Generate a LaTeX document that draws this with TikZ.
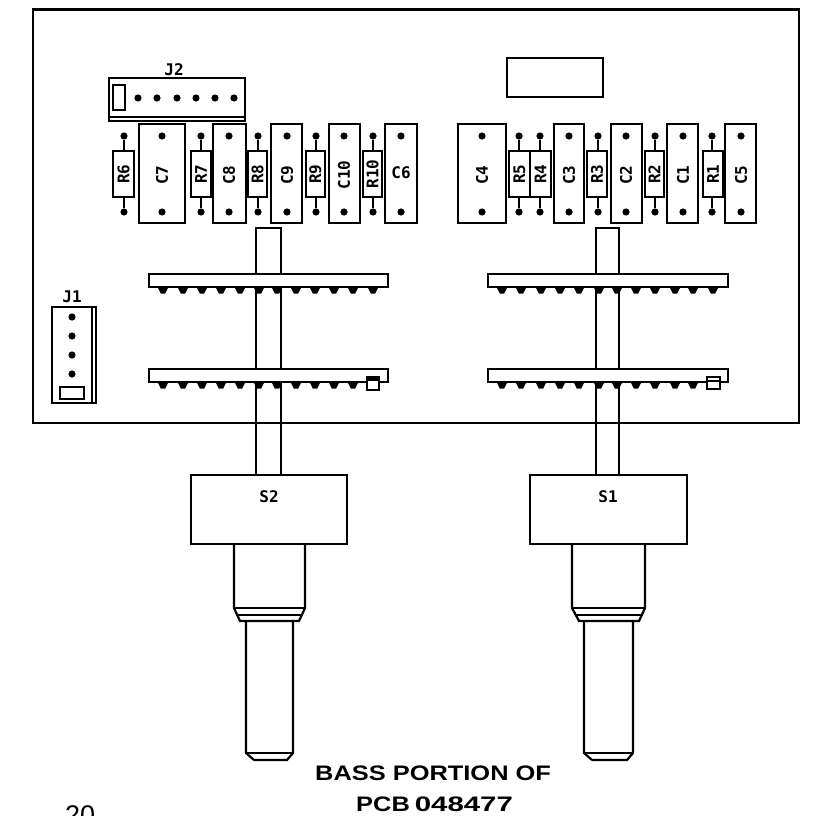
\documentclass[tikz,border=0pt]{standalone}
\usepackage{fontspec}
\setmainfont{Liberation Sans}
\newfontfamily\plotfont{DejaVu Sans Mono}
\newfontfamily\capfont{Liberation Sans}[FakeStretch=1.21]
\newfontfamily\digfont{Liberation Sans}[FakeStretch=1.4]
\tikzset{
  outline/.style={draw=black,line width=2.2pt,fill=white,line join=miter},
  thin part/.style={draw=black,line width=1.8pt,fill=white},
  plabel/.style={font=\plotfont\bfseries\fontsize{16}{16}\selectfont,inner sep=0pt},
  hlabel/.style={font=\plotfont\bfseries\fontsize{16}{16}\selectfont,inner sep=0pt},
  hole/.style={circle,fill=black,minimum size=7.2pt,inner sep=0pt},
  captiontext/.style={inner sep=0pt,anchor=base west},
}
\newcommand{\capbox}[4]{%
  \draw[outline] (#1,124) rectangle (#2,223);
  \node[hole] (h#4a) at (#3,136) {};
  \node[hole] (h#4b) at (#3,212) {};
  \node[plabel,rotate=90] (l#4) at (#3,175) {#4};
}
\newcommand{\resbox}[4]{%
  \node[hole] (h#4a) at (#3,136) {};
  \node[hole] (h#4b) at (#3,212) {};
  \draw[line width=1.6pt] (h#4a) -- (h#4b);
  \draw[outline] (#1,151) rectangle (#2,197);
  \node[plabel,rotate=90] (l#4) at ({(#1+#2)/2},174) {#4};
}
\newcommand{\wafer}[4]{%
  \foreach \bx in {#4} {
    \fill[black] (\bx-5.5,#3) -- (\bx+5.5,#3) -- (\bx+2.2,#3+6.5) -- (\bx-2.2,#3+6.5) -- cycle;
  }
  \draw[outline] (#1,#3-13) rectangle (#2,#3);
}
% box xl,xr; collar xl,xr; chamfer xl,xr; shaft xl,xr; tip xl
\newcommand{\switchbody}[9]{%
  \draw[outline] (#3,544) -- (#3,608) -- (#5,621) -- (#6,621) -- (#4,608) -- (#4,544);
  \draw[line width=1.8pt] (#3,608) -- (#4,608);
  \draw[line width=1.8pt] (#3+3,615) -- (#4-3,615);
  \draw[outline] (#7,621) -- (#7,753) -- (#9,760);
  \draw[outline] (#1,475) rectangle (#2,544);
}
\begin{document}
\begin{tikzpicture}[x=1pt,y=-1pt]
\useasboundingbox (0,0) rectangle (812,816);
\clip (0,0) rectangle (812,816);
\fill[white] (0,0) rectangle (812,816);
% board
\draw[draw=black,line width=2.6pt] (33,9.5) rectangle (799,423);
% shafts
\draw[outline] (256,476) -- (256,228) -- (281,228) -- (281,476);
\draw[outline] (596,476) -- (596,228) -- (619,228) -- (619,476);
\draw[line width=2.6pt] (33,423) -- (799,423);
% J2
\draw[outline] (109,78) rectangle (245,121);
\draw[line width=1.8pt] (109,117) -- (245,117);
\draw[outline] (113,85) rectangle (125,110);
\foreach \jx [count=\ji] in {138,157,177,196,215,234} \node[hole] (jt\ji) at (\jx,98) {};
\node[hlabel] (ltwo) at (174,70) {J2};
% blank IC
\draw[outline] (507,58) rectangle (603,97);
% left row
\resbox{113}{134}{124}{R6}
\capbox{139}{185}{162}{C7}
\resbox{191}{211}{201}{R7}
\capbox{213}{246}{229}{C8}
\resbox{248}{267}{258}{R8}
\capbox{271}{302}{287}{C9}
\resbox{306}{325}{316}{R9}
\capbox{329}{360}{344}{C10}
\resbox{363}{382}{373}{R10}
\draw[outline] (385,124) rectangle (417,223);
\node[hole] (hC6a) at (401,136) {};
\node[hole] (hC6b) at (401,212) {};
\node[plabel] (lC6) at (401,173) {C6};
% right row
\capbox{458}{506}{482}{C4}
\resbox{509}{530}{519}{R5}
\resbox{530}{551}{540}{R4}
\capbox{554}{584}{569}{C3}
\resbox{587}{607}{598}{R3}
\capbox{611}{642}{626}{C2}
\resbox{645}{664}{655}{R2}
\capbox{667}{698}{683}{C1}
\resbox{703}{723}{712}{R1}
\capbox{725}{756}{741}{C5}
% J1
\draw[outline] (52,307) rectangle (96,403);
\draw[line width=1.6pt] (92,307) -- (92,403);
\foreach \jy [count=\ji] in {317,336,355,374} \node[hole] (jo\ji) at (72,\jy) {};
\draw[outline] (60,387) rectangle (84,399);
\node[hlabel] (lone) at (72,297) {J1};
% wafers
\wafer{149}{388}{287}{163,183,202,221,240,259,277,296,315,334,353,373}
\wafer{149}{388}{382}{163,183,202,221,240,259,277,296,315,334,353}
\wafer{488}{728}{287}{502,521,541,560,579,599,617,636,655,675,693,713}
\wafer{488}{728}{382}{502,521,541,560,579,599,617,636,655,675,693}
\draw[thin part] (367,377) rectangle (379,390);
\fill[black] (367,376) rectangle (379,381);
\draw[thin part] (707,377) rectangle (720,389);
\draw[line width=1.5pt] (707,381) -- (720,381);
% switches
\switchbody{191}{347}{234}{305}{240}{299}{246}{}{254}
\draw[outline] (254,760) -- (287,760) -- (293,753) -- (293,621);
\draw[line width=1.8pt] (246,753) -- (293,753);
\node[hlabel] (ls2) at (269,497) {S2};
\switchbody{530}{687}{572}{645}{579}{639}{584}{}{592}
\draw[outline] (592,760) -- (627,760) -- (633,753) -- (633,621);
\draw[line width=1.8pt] (584,753) -- (633,753);
\node[hlabel] (ls1) at (608,497) {S1};
% captions
\node[font=\capfont\bfseries\fontsize{21}{21}\selectfont,captiontext] (tone) at (315,780) {BASS PORTION OF};
\node[font=\capfont\bfseries\fontsize{21}{21}\selectfont,captiontext] (ttwo) at (356,811) {PCB\kern 5pt{\digfont\bfseries 048477}};
\node[font=\fontsize{27}{27}\selectfont,inner sep=0pt,anchor=base west] (page) at (65,824) {20};
\end{tikzpicture}
\end{document}
